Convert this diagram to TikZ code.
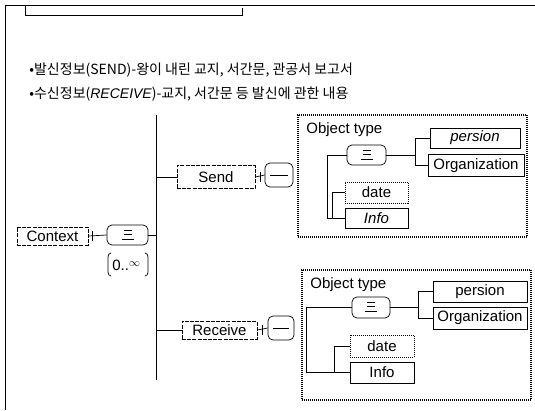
\documentclass[tikz,border=0pt]{standalone}
\usepackage{fontspec}
\setmainfont{Liberation Sans}
\newfontfamily\kr{Noto Sans CJK KR}
\usetikzlibrary{calc}
\newcommand\triicon[1]{\draw[line width=0.6pt] ($(#1.center)+(-4,-5)$) -- ++(8,0) ($(#1.center)+(-4,-1)$) -- ++(8,0) ($(#1.center)+(-6,4)$) -- ++(12,0);}
\newcommand\lineicon[1]{\draw[line width=0.7pt] ($(#1.west)+(5,0)$) -- ($(#1.east)+(-5,0)$);}
\begin{document}
\begin{tikzpicture}[x=1pt,y=-1pt,
  line width=0.7pt,
  lbl/.style={font=\fontsize{15}{17}\selectfont, inner sep=0pt},
  elbox/.style={draw, lbl, line width=0.7pt, dash pattern=on 4pt off 1.2pt},
  solbox/.style={draw, lbl, line width=0.7pt},
  optbox/.style={draw, lbl, line width=0.7pt, dash pattern=on 1pt off 1pt},
  symbox/.style={draw, rounded corners=5pt, line width=0.7pt, inner sep=0pt},
  typebox/.style={draw, line width=1.3pt, dash pattern=on 0.9pt off 1.1pt, inner sep=0pt},
  kline/.style={anchor=west, inner sep=0pt, font=\kr\fontsize{14}{16}\selectfont}
]
\useasboundingbox (0,0) rectangle (535,410);
% frame
\draw (5,410) -- (5,5) -- (535,5);
\draw (25,5) -- (25,15) -- (242,15) -- (242,8);
% text lines
\node[kline] (l1) at (29,70) {•발신정보(SEND)-왕이 내린 교지, 서간문, 관공서 보고서};
\node[kline] (l2) at (29,94) {•수신정보({\rmfamily\itshape RECEIVE})-교지, 서간문 등 발신에 관한 내용};
% Context
\node[elbox, minimum width=71pt, minimum height=18pt] (ctx) at (52.5,236) {Context};
\node[symbox, minimum width=41pt, minimum height=20pt] (cseq) at (127.5,235) {};
\triicon{cseq}
\draw (ctx.east) -- (cseq.west);
\draw ($(ctx.east)+(4,-5)$) -- ++(0,10);
\node[lbl, anchor=west] (card) at (112,265) {0..\raisebox{4pt}{\fontsize{11}{12}\selectfont$\infty$}};
\draw (111,253) to[out=180,in=90] (108,257) -- (108,272) to[out=-90,in=180] (111,276);
\draw (145,253) to[out=0,in=90] (148,257) -- (148,272) to[out=-90,in=0] (145,276);
% trunk
\coordinate (ttop) at (156,115);
\coordinate (tbot) at (156,380);
\draw (ttop) -- (tbot);
\draw (cseq.east) -- (cseq.east -| ttop);
% Send
\node[elbox, minimum width=78pt, minimum height=23pt] (send) at (216,177) {Send};
\draw (send.west -| ttop) -- (send.west);
\node[symbox, minimum width=28pt, minimum height=24pt] (ssym) at (279,175) {};
\lineicon{ssym}
\draw (send.east) -- (ssym.west);
\draw ($(send.east)+(5,-5)$) -- ++(0,10);
\node[typebox, minimum width=229pt, minimum height=122pt] (ot1) at (412.5,176) {};
\node[lbl, anchor=west] (ot1l) at (306,130) {Object type};
\node[symbox, minimum width=39pt, minimum height=20pt] (seq1) at (366.5,155) {};
\triicon{seq1}
\node[solbox, minimum width=90pt, minimum height=20pt] (pers1) at (475,138) {\itshape persion};
\node[solbox, minimum width=96pt, minimum height=22pt] (org1) at (476,165.5) {Organization};
\node[optbox, minimum width=63pt, minimum height=21pt] (date1) at (376.5,192.5) {date};
\node[solbox, minimum width=63pt, minimum height=20pt] (info1) at (376.5,218) {\itshape Info};
\draw (seq1.east) -- ++(29,0) coordinate (c1);
\draw (pers1.west) -- (pers1.west -| c1) -- (org1.west -| c1) -- (org1.west);
\draw (seq1.west) -- ++(-19,0) |- (info1.west);
\draw (date1.west) -- ++(-12,0) |- (info1.west);
% Receive
\node[elbox, minimum width=75pt, minimum height=18pt] (recv) at (219.5,330) {Receive};
\draw (recv.west -| ttop) -- (recv.west);
\node[symbox, minimum width=26pt, minimum height=24pt] (rsym) at (281,328) {};
\lineicon{rsym}
\draw (recv.east) -- (rsym.west);
\draw ($(recv.east)+(5,-5)$) -- ++(0,10);
\node[typebox, minimum width=229pt, minimum height=130pt] (ot2) at (416.5,335) {};
\node[lbl, anchor=west] (ot2l) at (310,285) {Object type};
\node[symbox, minimum width=38pt, minimum height=21pt] (seq2) at (371,307.5) {};
\triicon{seq2}
\node[solbox, minimum width=94pt, minimum height=21pt] (pers2) at (480,291.5) {persion};
\node[solbox, minimum width=94pt, minimum height=22pt] (org2) at (480,318) {Organization};
\node[optbox, minimum width=64pt, minimum height=22pt] (date2) at (382,346) {date};
\node[solbox, minimum width=64pt, minimum height=21pt] (info2) at (382,372.5) {Info};
\draw (seq2.east) -- ++(28,0) coordinate (c2);
\draw (pers2.west) -- (pers2.west -| c2) -- (org2.west -| c2) -- (org2.west);
\draw (seq2.west) -- ++(-45,0) |- (info2.west);
\draw (date2.west) -- ++(-15,0) |- (info2.west);
\end{tikzpicture}
\end{document}
